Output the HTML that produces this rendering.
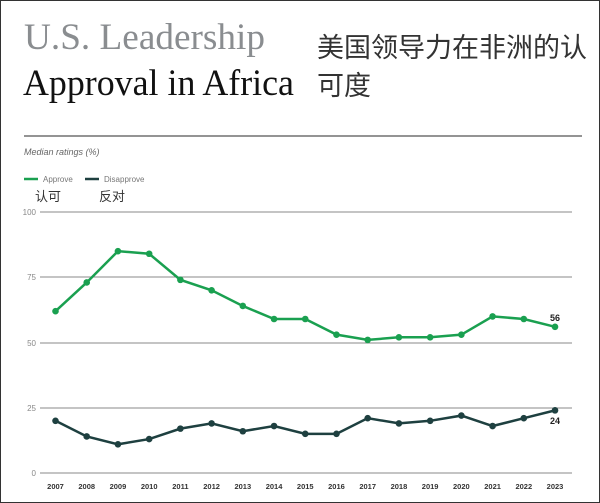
<!DOCTYPE html>
<html><head><meta charset="utf-8"><style>
body{margin:0;width:600px;height:503px;background:#fff;overflow:hidden;}
.frame{position:absolute;left:0;top:0;width:598px;height:501px;border:1px solid #333;}
</style></head><body>
<div class="frame"></div>
<svg width="600" height="503" style="position:absolute;left:0;top:0">
<text x="24" y="49" font-family="Liberation Serif, serif" font-size="37" fill="#8a8d90" textLength="241" lengthAdjust="spacingAndGlyphs">U.S. Leadership</text>
<text x="23" y="95" font-family="Liberation Serif, serif" font-size="37" fill="#111" textLength="271" lengthAdjust="spacingAndGlyphs">Approval in Africa</text>
<text x="317" y="57" font-family="Liberation Sans, 'Noto Sans CJK SC', sans-serif" font-size="27" fill="#333">美国领导力在非洲的认</text>
<text x="317" y="95" font-family="Liberation Sans, 'Noto Sans CJK SC', sans-serif" font-size="27" fill="#333">可度</text>
<line x1="24" y1="136" x2="582" y2="136" stroke="#555" stroke-width="1.2"/>
<text x="24" y="155" font-family="Liberation Sans, sans-serif" font-size="9" font-style="italic" fill="#666">Median ratings (%)</text>
<line x1="24" y1="179" x2="38" y2="179" stroke="#1aa050" stroke-width="2.5"/>
<text x="43" y="182" font-family="Liberation Sans, sans-serif" font-size="8" fill="#777">Approve</text>
<line x1="85" y1="179" x2="99" y2="179" stroke="#1e4040" stroke-width="2.5"/>
<text x="104" y="182" font-family="Liberation Sans, sans-serif" font-size="8" fill="#777">Disapprove</text>
<text x="35" y="201" font-family="Liberation Sans, 'Noto Sans CJK SC', sans-serif" font-size="13" fill="#333">认可</text>
<text x="99" y="201" font-family="Liberation Sans, 'Noto Sans CJK SC', sans-serif" font-size="13" fill="#333">反对</text>
<g stroke="#888" stroke-width="1">
<line x1="40" y1="212" x2="572" y2="212"/>
<line x1="40" y1="277" x2="572" y2="277"/>
<line x1="40" y1="343" x2="572" y2="343"/>
<line x1="40" y1="408" x2="572" y2="408"/>
<line x1="40" y1="473" x2="572" y2="473"/>
</g>
<g font-family="Liberation Sans, sans-serif" font-size="8" fill="#888" text-anchor="end">
<text x="36" y="215">100</text><text x="36" y="280">75</text><text x="36" y="346">50</text><text x="36" y="411">25</text><text x="36" y="476">0</text>
</g>
<g id="years" font-family="Liberation Sans, sans-serif" font-size="7.5" font-weight="bold" fill="#333" text-anchor="middle"></g>
<polyline id="ap" fill="none" stroke="#1aa050" stroke-width="2.5"/>
<polyline id="dp" fill="none" stroke="#1e4040" stroke-width="2.5"/>
<g id="dots"></g>
<text x="555" y="321" font-family="Liberation Sans, sans-serif" font-size="9" font-weight="bold" fill="#222" text-anchor="middle">56</text>
<text x="555" y="424" font-family="Liberation Sans, sans-serif" font-size="9" font-weight="bold" fill="#222" text-anchor="middle">24</text>
</svg>
<script>
var a=[62,73,85,84,74,70,64,59,59,53,51,52,52,53,60,59,56],d=[20,14,11,13,17,19,16,18,15,15,21,19,20,22,18,21,24];
function X(i){return 55.5+i*31.22}function Y(v){return 473-2.61*v}
var pa=[],pd=[],dots="",yrs="";
for(var i=0;i<17;i++){pa.push(X(i)+","+Y(a[i]));pd.push(X(i)+","+Y(d[i]));
dots+='<circle cx="'+X(i)+'" cy="'+Y(a[i])+'" r="3.3" fill="#1aa050"/><circle cx="'+X(i)+'" cy="'+Y(d[i])+'" r="3.3" fill="#1e4040"/>';
yrs+='<text x="'+X(i)+'" y="489">'+(2007+i)+'</text>';}
document.getElementById("ap").setAttribute("points",pa.join(" "));
document.getElementById("dp").setAttribute("points",pd.join(" "));
document.getElementById("dots").innerHTML=dots;
document.getElementById("years").innerHTML=yrs;
</script>
</body></html>
